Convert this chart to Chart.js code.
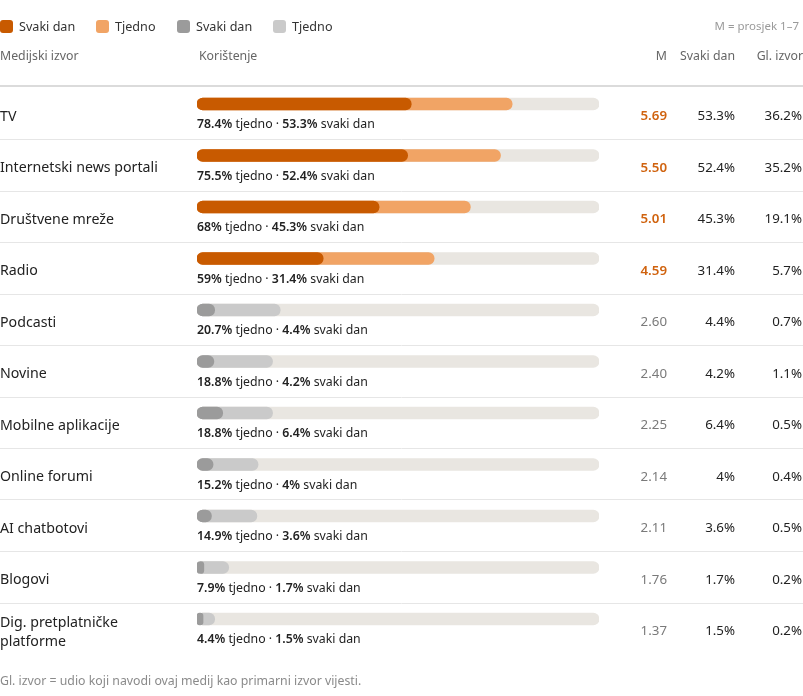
<!DOCTYPE html>
<html lang="hr">
<head>
<meta charset="utf-8">
<title>Medijski izvori</title>
<script src="https://cdn.jsdelivr.net/npm/chart.js@4.4.1/dist/chart.umd.min.js"></script>
<style>
    html, body { margin: 0; padding: 0; background: #fff; }
    #wrap { position: relative; width: 803px; height: 696px; }
</style>
</head>
<body>
<div id="wrap"><canvas id="mediaChart"></canvas></div>
<script>
// Data
const sources = ['TV', 'Internetski news portali', 'Društvene mreže', 'Radio', 'Podcasti', 'Novine',
    'Mobilne aplikacije', 'Online forumi', 'AI chatbotovi', 'Blogovi', 'Dig. pretplatničke platforme'];
const weekly = [78.4, 75.5, 68, 59, 20.7, 18.8, 18.8, 15.2, 14.9, 7.9, 4.4];
const daily = [53.3, 52.4, 45.3, 31.4, 4.4, 4.2, 6.4, 4, 3.6, 1.7, 1.5];
const meanScore = [5.69, 5.50, 5.01, 4.59, 2.60, 2.40, 2.25, 2.14, 2.11, 1.76, 1.37];
const primarySource = [36.2, 35.2, 19.1, 5.7, 0.7, 1.1, 0.5, 0.4, 0.5, 0.2, 0.2];
const highlightCount = 4; // first rows drawn in orange

// Colours
const ORANGE_DARK = '#c85a00';
const ORANGE_LIGHT = '#f1a465';
const GREY_DARK = '#9b9b9b';
const GREY_LIGHT = '#cacaca';
const TRACK = '#e9e6e1';
const FONT = "'Noto Sans', 'Open Sans', sans-serif";

const dailyColors = sources.map((s, i) => i < highlightCount ? ORANGE_DARK : GREY_DARK);
const weeklyColors = sources.map((s, i) => i < highlightCount ? ORANGE_LIGHT : GREY_LIGHT);

function pct(v) {
    return v + '%';
}

// Draws legend, header, row labels and value columns around the bars
const tablePlugin = {
    id: 'tableText',
    beforeDatasetsDraw(chart) {
        const ctx = chart.ctx;
        const yScale = chart.scales.y;
        ctx.save();
        // row separators
        ctx.strokeStyle = '#e6e6e6';
        ctx.lineWidth = 1;
        for (let i = 0; i < sources.length - 1; i++) {
            const y = Math.round(yScale.getPixelForValue(i) + 35) + 0.5;
            ctx.beginPath();
            ctx.moveTo(0, y);
            ctx.lineTo(chart.width, y);
            ctx.stroke();
        }
        // header line
        ctx.strokeStyle = '#cfcfcf';
        ctx.lineWidth = 1.5;
        ctx.beginPath();
        ctx.moveTo(0, 86);
        ctx.lineTo(chart.width, 86);
        ctx.stroke();
        ctx.restore();
    },
    afterDatasetsDraw(chart) {
        const ctx = chart.ctx;
        const yScale = chart.scales.y;
        const xLeft = chart.chartArea.left;
        ctx.save();
        ctx.textBaseline = 'middle';

        // legend
        const legendItems = [
            { text: 'Svaki dan', color: ORANGE_DARK, x: 0 },
            { text: 'Tjedno', color: ORANGE_LIGHT, x: 96 },
            { text: 'Svaki dan', color: GREY_DARK, x: 177 },
            { text: 'Tjedno', color: GREY_LIGHT, x: 273 }
        ];
        ctx.font = '12.6px ' + FONT;
        legendItems.forEach(item => {
            ctx.fillStyle = item.color;
            ctx.beginPath();
            ctx.roundRect(item.x, 20, 13, 13, 3);
            ctx.fill();
            ctx.fillStyle = '#333';
            ctx.textAlign = 'left';
            ctx.fillText(item.text, item.x + 19, 27);
        });
        ctx.font = '11.5px ' + FONT;
        ctx.fillStyle = '#9a9a9a';
        ctx.textAlign = 'right';
        ctx.fillText('M = prosjek 1–7', 799, 27);

        // column headers
        ctx.font = '12.3px ' + FONT;
        ctx.fillStyle = '#666';
        ctx.textAlign = 'left';
        ctx.fillText('Medijski izvor', 0, 56);
        ctx.fillText('Korištenje', xLeft + 2, 56);
        ctx.textAlign = 'right';
        ctx.fillText('M', 667, 56);
        ctx.fillText('Svaki dan', 735, 56);
        ctx.fillText('Gl. izvor', 803, 56);

        sources.forEach((name, i) => {
            const cy = yScale.getPixelForValue(i);

            // label
            ctx.font = '14.2px ' + FONT;
            ctx.fillStyle = '#222';
            ctx.textAlign = 'left';
            if (name === 'Dig. pretplatničke platforme') {
                ctx.fillText('Dig. pretplatničke', 0, cy + 3.5);
                ctx.fillText('platforme', 0, cy + 22.5);
            } else {
                ctx.fillText(name, 0, cy + 12.5);
            }

            // sub caption under bar
            const parts = [
                [pct(weekly[i]), 'bold'],
                [' tjedno · ', 'normal'],
                [pct(daily[i]), 'bold'],
                [' svaki dan', 'normal']
            ];
            let x = xLeft;
            ctx.fillStyle = '#222';
            parts.forEach(([t, w]) => {
                ctx.font = (w === 'bold' ? '600 ' : '') + '12.3px ' + FONT;
                ctx.fillText(t, x, cy + 20.5);
                x += ctx.measureText(t).width;
            });

            // value columns
            const vy = cy + 12.5;
            ctx.textAlign = 'right';
            if (i < highlightCount) {
                ctx.font = '600 13.3px ' + FONT;
                ctx.fillStyle = '#d0630f';
            } else {
                ctx.font = '13.3px ' + FONT;
                ctx.fillStyle = '#7a7a7a';
            }
            ctx.fillText(meanScore[i].toFixed(2), 667, vy);
            ctx.font = '13.3px ' + FONT;
            ctx.fillStyle = '#222';
            ctx.fillText(pct(daily[i]), 735, vy);
            ctx.fillText(pct(primarySource[i]), 802, vy);
        });

        // footnote
        ctx.font = '12.3px ' + FONT;
        ctx.fillStyle = '#8a8a8a';
        ctx.textAlign = 'left';
        ctx.fillText('Gl. izvor = udio koji navodi ovaj medij kao primarni izvor vijesti.', 0, 681.5);
        ctx.restore();
    }
};

const barStyle = {
    barThickness: 12,
    borderRadius: 6,
    borderSkipped: false,
    grouped: false
};

const ctx = document.getElementById('mediaChart').getContext('2d');
new Chart(ctx, {
    type: 'bar',
    data: {
        labels: sources,
        datasets: [
            { label: 'Svaki dan', data: daily, backgroundColor: dailyColors, ...barStyle },
            { label: 'Tjedno', data: weekly, backgroundColor: weeklyColors, ...barStyle },
            { label: 'Ukupno', data: sources.map(() => 100), backgroundColor: TRACK, ...barStyle }
        ]
    },
    options: {
        indexAxis: 'y',
        responsive: true,
        maintainAspectRatio: false,
        animation: false,
        layout: {
            padding: { left: 197, right: 204, top: 78.25, bottom: 51.25 }
        },
        plugins: {
            legend: { display: false },
            tooltip: { enabled: false }
        },
        scales: {
            x: { display: false, min: 0, max: 100 },
            y: { display: false, offset: true }
        }
    },
    plugins: [tablePlugin]
});
</script>
</body>
</html>
